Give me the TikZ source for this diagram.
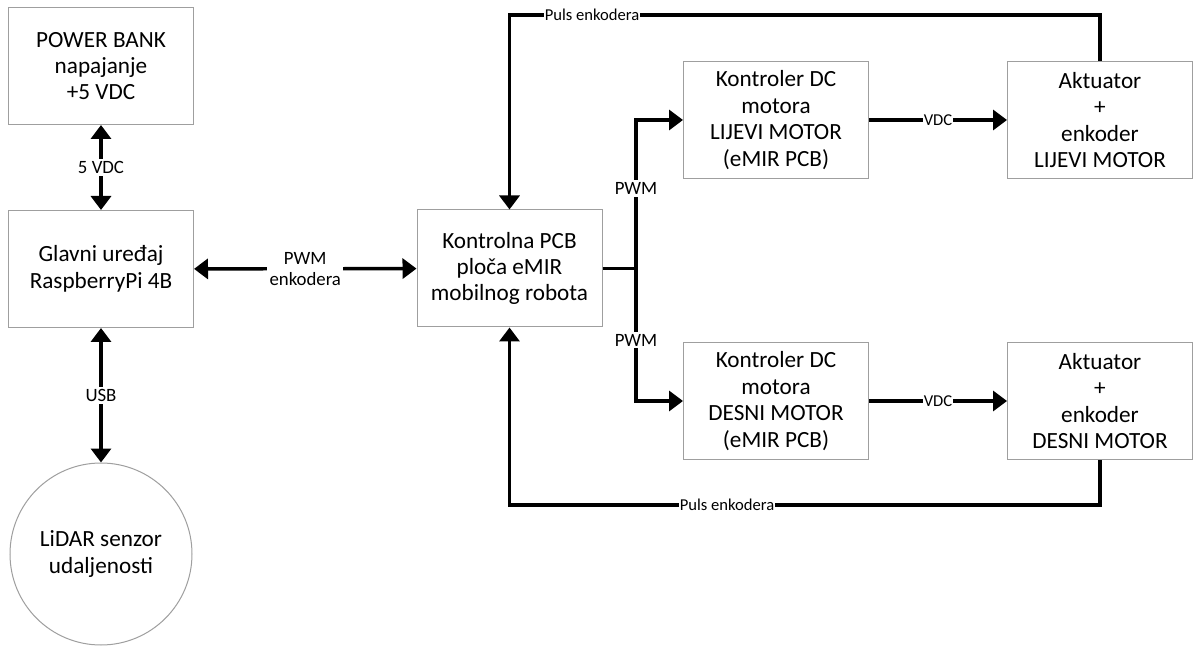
\documentclass[tikz,border=0pt]{standalone}
\usepackage{fontspec}
\setmainfont{Carlito}
\usetikzlibrary{arrows.meta, positioning, calc}

\tikzset{
  block/.style={draw=gray!75, line width=0.5pt, fill=white, align=center,
    minimum width=92.5pt, minimum height=58.5pt, inner sep=2pt,
    font=\fontsize{11.6}{13.2}\selectfont},
  link/.style={line width=1.7pt, -{Triangle[width=10pt,length=7pt]}},
  dlink/.style={line width=1.7pt, {Triangle[width=10pt,length=7pt]}-{Triangle[width=10pt,length=7pt]}},
  wire/.style={line width=1.7pt},
  tag/.style={fill=white, inner sep=1.2pt, align=center, font=\fontsize{9.4}{10.6}\selectfont},
  stag/.style={fill=white, inner sep=0.6pt, font=\fontsize{8.3}{9}\selectfont},
}

\begin{document}
\begin{tikzpicture}[x=0.5pt, y=-0.5pt]
  \useasboundingbox (0,0) rectangle (1193,646);

  % Left column
  \node[block] (pb) at (101,66) {POWER BANK\\napajanje\\+5 VDC};
  \node[block] (gu) at (101,269) {Glavni uređaj\\RaspberryPi 4B};
  \node[block, circle, minimum size=91pt] (li) at (101,554) {LiDAR senzor\\udaljenosti};

  % Control board
  \node[block] (kp) at (509.5,268.5) {Kontrolna PCB\\ploča eMIR\\mobilnog robota};

  % Motor controllers and actuators
  \node[block] (kl) at (776,120) {Kontroler DC\\motora\\LIJEVI MOTOR\\(eMIR PCB)};
  \node[block] (al) at (1100,120) {Aktuator\\+\\enkoder\\LIJEVI MOTOR};
  \node[block] (kd) at (776,401) {Kontroler DC\\motora\\DESNI MOTOR\\(eMIR PCB)};
  \node[block] (ad) at (1100,401) {Aktuator\\+\\enkoder\\DESNI MOTOR};

  % Links on the left
  \draw[dlink] (pb) -- node[tag] {5 VDC} (gu);
  \draw[dlink] (gu) -- node[tag] {USB} (li);
  \draw[dlink] (gu) -- node[tag] {PWM\\enkodera} (kp);

  % PWM branch
  \coordinate (br) at (636,268.5);
  \draw[wire] (kp) -- (br);
  \draw[link] (br) |- node[tag, pos=0.27] {PWM} (kl);
  \draw[link] (br) |- node[tag, pos=0.27] {PWM} (kd);

  % Supply to actuators
  \draw[link] (kl) -- node[stag] {VDC} (al);
  \draw[link] (kd) -- node[stag] {VDC} (ad);

  % Encoder feedback
  \coordinate (tl) at (509.5,15);
  \coordinate (bl) at (509.5,505);
  \draw[link] (al.north) |- (tl) -- (kp.north);
  \draw[link] (ad.south) |- (bl) -- (kp.south);
  \node[stag] (pt) at (592,15) {Puls enkodera};
  \node[stag] (pb2) at (727,505) {Puls enkodera};
\end{tikzpicture}
\end{document}
